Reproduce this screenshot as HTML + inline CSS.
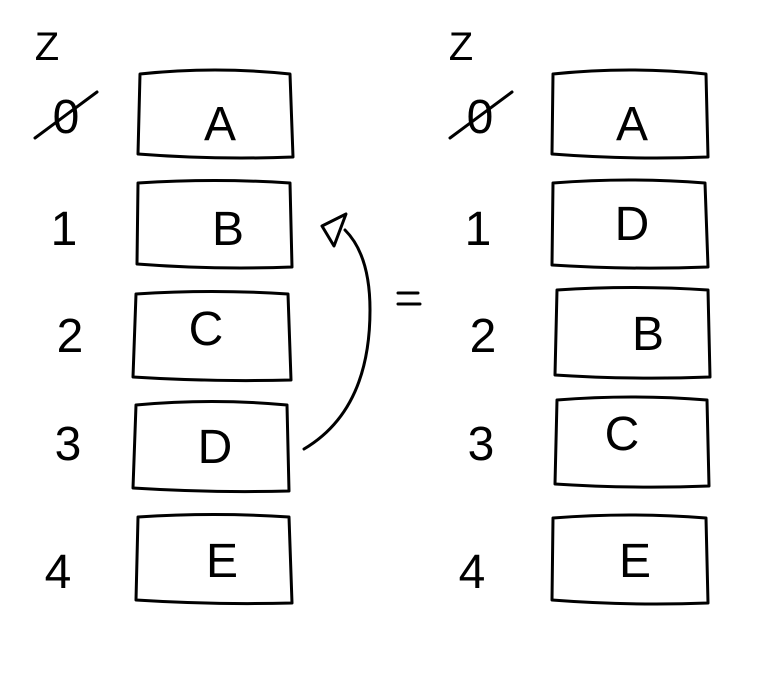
<!DOCTYPE html>
<html><head><meta charset="utf-8"><style>
html,body{margin:0;padding:0;background:#fff;width:772px;height:698px;overflow:hidden}
svg text{font-family:"Liberation Sans",sans-serif;fill:#000}
</style></head><body>
<svg width="772" height="698" viewBox="0 0 772 698" xmlns="http://www.w3.org/2000/svg">
<g fill="none" stroke="#000" stroke-width="3" stroke-linecap="round" stroke-linejoin="round">
<path d="M140 74 Q215 66 290 74 L293 157 Q215 160 138 154 Z"/>
<path d="M138 183 Q215 178 290 183 L292 267 Q215 270 137 264 Z"/>
<path d="M136 294 Q212 289 288 294 L291 380 Q212 382 133 377 Z"/>
<path d="M136 405 Q212 398 287 405 L289 491 Q212 493 133 488 Z"/>
<path d="M138 517 Q214 512 289 517 L292 603 Q214 605 136 600 Z"/>
<path d="M553 74 Q630 66 706 74 L708 157 Q630 160 552 154 Z"/>
<path d="M553 183 Q630 177 705 183 L708 267 Q630 270 552 265 Z"/>
<path d="M557 290 Q632 285 708 290 L710 377 Q632 380 555 375 Z"/>
<path d="M557 400 Q632 394 707 400 L709 486 Q632 489 555 484 Z"/>
<path d="M553 518 Q630 512 706 518 L708 603 Q630 606 552 600 Z"/>
<path d="M304 449 Q370 410 370 310 Q370 255 345 230"/>
<path d="M322 226 L346 214 L334 246 Z"/>
<path d="M398 293 L418 293 M398 304 L420 304"/>
<path d="M35 138 L97 92"/>
<path d="M450 138 L512 92"/>
</g>
<g font-size="48" text-anchor="middle">
<text x="47" y="60" font-size="40">Z</text>
<text x="461" y="60" font-size="40">Z</text>
<text x="66" y="133">0</text>
<text x="480" y="133">0</text>
<text x="64" y="245">1</text>
<text x="478" y="245">1</text>
<text x="70" y="352">2</text>
<text x="483" y="352">2</text>
<text x="68" y="460">3</text>
<text x="481" y="460">3</text>
<text x="58" y="588">4</text>
<text x="472" y="588">4</text>
<text x="220" y="140">A</text>
<text x="228" y="245">B</text>
<text x="206" y="345">C</text>
<text x="215" y="463">D</text>
<text x="222" y="577">E</text>
<text x="632" y="140">A</text>
<text x="632" y="240">D</text>
<text x="648" y="350">B</text>
<text x="622" y="450">C</text>
<text x="635" y="577">E</text>
</g>
</svg>
</body></html>
